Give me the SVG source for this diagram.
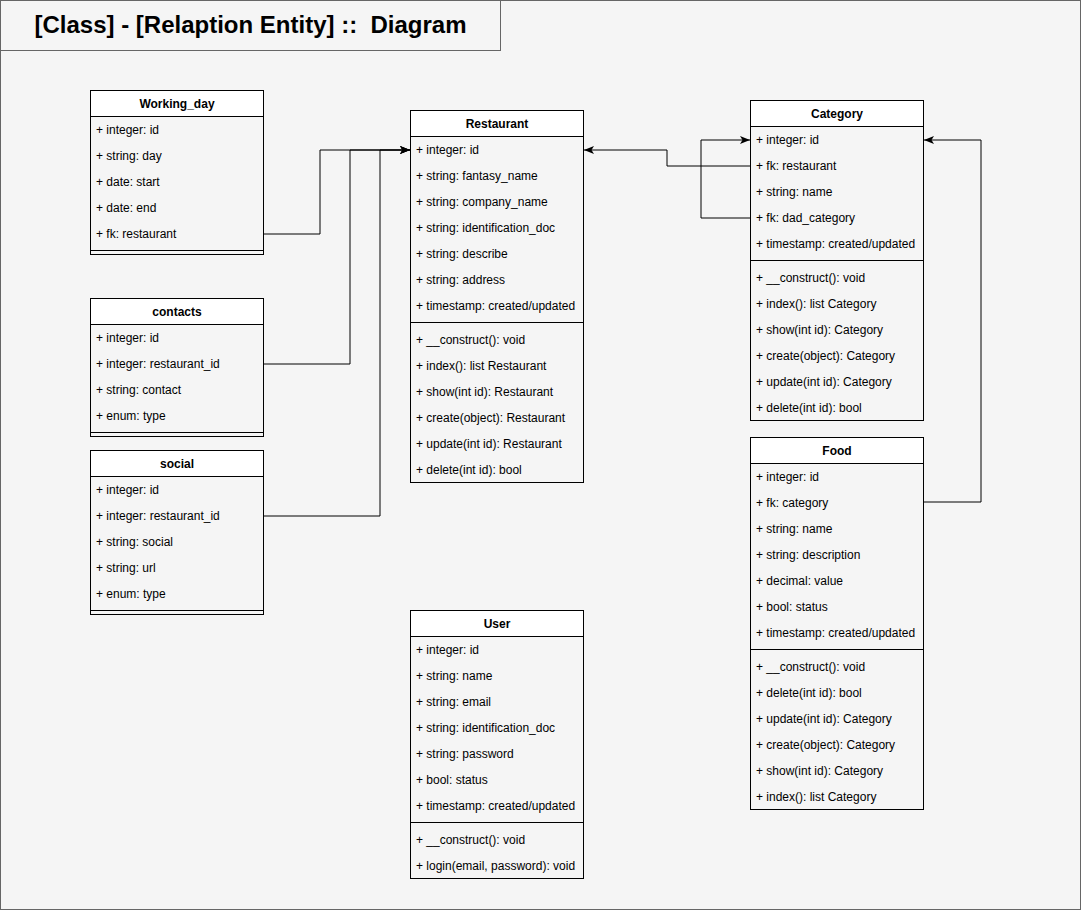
<svg xmlns="http://www.w3.org/2000/svg" width="1082" height="911" viewBox="0 0 1082 911">
<defs>
<style>
.bg{fill:#f5f5f5;stroke:#666666;stroke-width:1}
.box{fill:none;stroke:#000;stroke-width:1}
.hd{fill:#ffffff;stroke:#000;stroke-width:1}
.sep{stroke:#000;stroke-width:1}
.t{font-family:"Liberation Sans",Arial,sans-serif;font-size:12px;fill:#000}
.h{font-family:"Liberation Sans",Arial,sans-serif;font-size:12px;font-weight:bold;fill:#000;text-anchor:middle}
.title{font-family:"Liberation Sans",Arial,sans-serif;font-size:24px;font-weight:bold;fill:#000;text-anchor:middle;white-space:pre}
.c{fill:none;stroke:#000;stroke-width:1}
</style>
<marker id="arr" viewBox="0 0 10 10" refX="10" refY="5" markerWidth="10" markerHeight="10" markerUnits="userSpaceOnUse" orient="auto">
<path d="M0,1 L10,5 L0,9 L2.5,5 Z" fill="#000"/>
</marker>
</defs>
<rect class="bg" x="0.5" y="0.5" width="1080" height="909"/>
<g id="title">
<rect class="bg" x="0.5" y="0.5" width="500" height="50"/>
<text class="title" x="250.5" y="33" xml:space="preserve">[Class] - [Relaption Entity] ::  Diagram</text>
</g>

<g id="connectors">
<polyline class="c" points="264,234 320,234 320,150 410,150" marker-end="url(#arr)"/>
<polyline class="c" points="264,364 350,364 350,150 410,150" marker-end="url(#arr)"/>
<polyline class="c" points="264,516 380,516 380,150 410,150" marker-end="url(#arr)"/>
<polyline class="c" points="750,166 667,166 667,150 584,150" marker-end="url(#arr)"/>
<polyline class="c" points="750,218 701,218 701,140 750,140" marker-end="url(#arr)"/>
<polyline class="c" points="924,502 981,502 981,140 924,140" marker-end="url(#arr)"/>
</g>

<g id="working_day">
<rect class="box" x="90.5" y="90.5" width="173" height="164"/>
<rect class="hd" x="90.5" y="90.5" width="173" height="26"/>
<text class="h" x="177" y="108">Working_day</text>
<text class="t" x="96" y="134">+ integer: id</text>
<text class="t" x="96" y="160">+ string: day</text>
<text class="t" x="96" y="186">+ date: start</text>
<text class="t" x="96" y="212">+ date: end</text>
<text class="t" x="96" y="238">+ fk: restaurant</text>
<line class="sep" x1="90.5" y1="250.5" x2="263.5" y2="250.5"/>
</g>

<g id="contacts">
<rect class="box" x="90.5" y="298.5" width="173" height="138"/>
<rect class="hd" x="90.5" y="298.5" width="173" height="26"/>
<text class="h" x="177" y="316">contacts</text>
<text class="t" x="96" y="342">+ integer: id</text>
<text class="t" x="96" y="368">+ integer: restaurant_id</text>
<text class="t" x="96" y="394">+ string: contact</text>
<text class="t" x="96" y="420">+ enum: type</text>
<line class="sep" x1="90.5" y1="432.5" x2="263.5" y2="432.5"/>
</g>

<g id="social">
<rect class="box" x="90.5" y="450.5" width="173" height="164"/>
<rect class="hd" x="90.5" y="450.5" width="173" height="26"/>
<text class="h" x="177" y="468">social</text>
<text class="t" x="96" y="494">+ integer: id</text>
<text class="t" x="96" y="520">+ integer: restaurant_id</text>
<text class="t" x="96" y="546">+ string: social</text>
<text class="t" x="96" y="572">+ string: url</text>
<text class="t" x="96" y="598">+ enum: type</text>
<line class="sep" x1="90.5" y1="610.5" x2="263.5" y2="610.5"/>
</g>

<g id="restaurant">
<rect class="box" x="410.5" y="110.5" width="173" height="372"/>
<rect class="hd" x="410.5" y="110.5" width="173" height="26"/>
<text class="h" x="497" y="128">Restaurant</text>
<text class="t" x="416" y="154">+ integer: id</text>
<text class="t" x="416" y="180">+ string: fantasy_name</text>
<text class="t" x="416" y="206">+ string: company_name</text>
<text class="t" x="416" y="232">+ string: identification_doc</text>
<text class="t" x="416" y="258">+ string: describe</text>
<text class="t" x="416" y="284">+ string: address</text>
<text class="t" x="416" y="310">+ timestamp: created/updated</text>
<line class="sep" x1="410.5" y1="322.5" x2="583.5" y2="322.5"/>
<text class="t" x="416" y="344">+ __construct(): void</text>
<text class="t" x="416" y="370">+ index(): list Restaurant</text>
<text class="t" x="416" y="396">+ show(int id): Restaurant</text>
<text class="t" x="416" y="422">+ create(object): Restaurant</text>
<text class="t" x="416" y="448">+ update(int id): Restaurant</text>
<text class="t" x="416" y="474">+ delete(int id): bool</text>
</g>

<g id="user">
<rect class="box" x="410.5" y="610.5" width="173" height="268"/>
<rect class="hd" x="410.5" y="610.5" width="173" height="26"/>
<text class="h" x="497" y="628">User</text>
<text class="t" x="416" y="654">+ integer: id</text>
<text class="t" x="416" y="680">+ string: name</text>
<text class="t" x="416" y="706">+ string: email</text>
<text class="t" x="416" y="732">+ string: identification_doc</text>
<text class="t" x="416" y="758">+ string: password</text>
<text class="t" x="416" y="784">+ bool: status</text>
<text class="t" x="416" y="810">+ timestamp: created/updated</text>
<line class="sep" x1="410.5" y1="822.5" x2="583.5" y2="822.5"/>
<text class="t" x="416" y="844">+ __construct(): void</text>
<text class="t" x="416" y="870">+ login(email, password): void</text>
</g>

<g id="category">
<rect class="box" x="750.5" y="100.5" width="173" height="320"/>
<rect class="hd" x="750.5" y="100.5" width="173" height="26"/>
<text class="h" x="837" y="118">Category</text>
<text class="t" x="756" y="144">+ integer: id</text>
<text class="t" x="756" y="170">+ fk: restaurant</text>
<text class="t" x="756" y="196">+ string: name</text>
<text class="t" x="756" y="222">+ fk: dad_category</text>
<text class="t" x="756" y="248">+ timestamp: created/updated</text>
<line class="sep" x1="750.5" y1="260.5" x2="923.5" y2="260.5"/>
<text class="t" x="756" y="282">+ __construct(): void</text>
<text class="t" x="756" y="308">+ index(): list Category</text>
<text class="t" x="756" y="334">+ show(int id): Category</text>
<text class="t" x="756" y="360">+ create(object): Category</text>
<text class="t" x="756" y="386">+ update(int id): Category</text>
<text class="t" x="756" y="412">+ delete(int id): bool</text>
</g>

<g id="food">
<rect class="box" x="750.5" y="437.5" width="173" height="372"/>
<rect class="hd" x="750.5" y="437.5" width="173" height="26"/>
<text class="h" x="837" y="455">Food</text>
<text class="t" x="756" y="481">+ integer: id</text>
<text class="t" x="756" y="507">+ fk: category</text>
<text class="t" x="756" y="533">+ string: name</text>
<text class="t" x="756" y="559">+ string: description</text>
<text class="t" x="756" y="585">+ decimal: value</text>
<text class="t" x="756" y="611">+ bool: status</text>
<text class="t" x="756" y="637">+ timestamp: created/updated</text>
<line class="sep" x1="750.5" y1="649.5" x2="923.5" y2="649.5"/>
<text class="t" x="756" y="671">+ __construct(): void</text>
<text class="t" x="756" y="697">+ delete(int id): bool</text>
<text class="t" x="756" y="723">+ update(int id): Category</text>
<text class="t" x="756" y="749">+ create(object): Category</text>
<text class="t" x="756" y="775">+ show(int id): Category</text>
<text class="t" x="756" y="801">+ index(): list Category</text>
</g>
</svg>
